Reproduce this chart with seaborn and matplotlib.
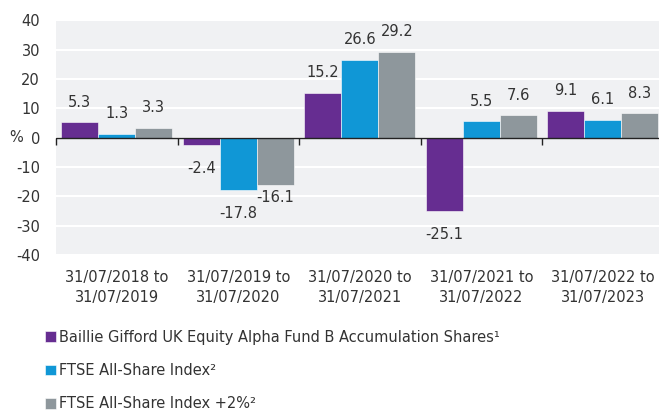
"""
Discrete annual performance chart.
"""
import numpy as np
import pandas as pd
import matplotlib
matplotlib.use("Agg")
import matplotlib.pyplot as plt
import seaborn as sns

periods = ["31/07/2018 to\n31/07/2019", "31/07/2019 to\n31/07/2020",
           "31/07/2020 to\n31/07/2021", "31/07/2021 to\n31/07/2022",
           "31/07/2022 to\n31/07/2023"]
fund = [5.3, -2.4, 15.2, -25.1, 9.1]
index = [1.3, -17.8, 26.6, 5.5, 6.1]
index_plus = [3.3, -16.1, 29.2, 7.6, 8.3]
series_names = ["Baillie Gifford UK Equity Alpha Fund B Accumulation Shares\u00b9",
                "FTSE All-Share Index\u00b2",
                "FTSE All-Share Index +2%\u00b2"]
colors = ["#662d91", "#1097d6", "#8e979c"]
y_ticks = [-40, -30, -20, -10, 0, 10, 20, 30, 40]

df = pd.DataFrame({
    "period": periods * 3,
    "series": np.repeat(series_names, len(periods)),
    "value": fund + index + index_plus,
})

sns.set_theme(style="white")
plt.rcParams["font.family"] = ["DejaVu Sans"]
text_color = "#333333"
fs = 10.5

fig = plt.figure(figsize=(6.59, 4.12), dpi=100)
ax = fig.add_axes([0.085, 0.381, 0.922, 0.57])
ax.set_facecolor("#f0f1f3")

sns.barplot(data=df, x="period", y="value", hue="series", palette=colors,
            saturation=1, width=0.914, gap=0, edgecolor="white",
            linewidth=0.4, ax=ax, zorder=3)

# value labels (last series' negatives sit closer so they don't collide)
for i, cont in enumerate(ax.containers):
    vals = [b.get_height() for b in cont]
    pos = [f"{v:.1f}" if v >= 0 else "" for v in vals]
    neg = [f"{v:.1f}" if v < 0 else "" for v in vals]
    ax.bar_label(cont, labels=pos, padding=9, fontsize=fs, color=text_color)
    ax.bar_label(cont, labels=neg, padding=4 if i == 2 else 11.5,
                 fontsize=fs, color=text_color)

ax.set_ylim(-40, 40)
ax.set_xlim(-0.5, len(periods) - 0.5)
ax.set_yticks(y_ticks)
ax.set_yticklabels([str(t) for t in y_ticks])
ax.yaxis.grid(True, color="white", linewidth=1.5, zorder=0)
ax.set_axisbelow(True)
for s in ax.spines.values():
    s.set_visible(False)

# zero line with group dividers
ax.axhline(0, color="#222222", linewidth=1.0, zorder=4)
bounds = np.arange(len(periods) + 1) - 0.5
ax.plot(bounds, np.zeros(len(bounds)), linestyle="none", marker=3,
        markersize=5, color="#222222", markeredgewidth=1.0, zorder=4,
        clip_on=False)

ax.tick_params(axis="y", length=0, pad=11.5, labelsize=fs, labelcolor=text_color)
ax.tick_params(axis="x", length=0, pad=10.5, labelsize=fs, labelcolor=text_color)
for lab in ax.get_xticklabels():
    lab.set_linespacing(1.45)
ax.set_xlabel("")
ax.set_ylabel("")
ax.text(-0.054, 0, "%", transform=ax.get_yaxis_transform(), ha="right",
        va="center", fontsize=fs, color=text_color)

sns.move_legend(ax, loc="upper left", bbox_to_anchor=(0.057, 0.217),
                bbox_transform=fig.transFigure, frameon=False, title=None,
                fontsize=fs, handlelength=0.75, handleheight=0.75,
                handletextpad=0.25, labelspacing=1.25, borderpad=0,
                labelcolor=text_color)

fig.savefig("out.png", dpi=100)
